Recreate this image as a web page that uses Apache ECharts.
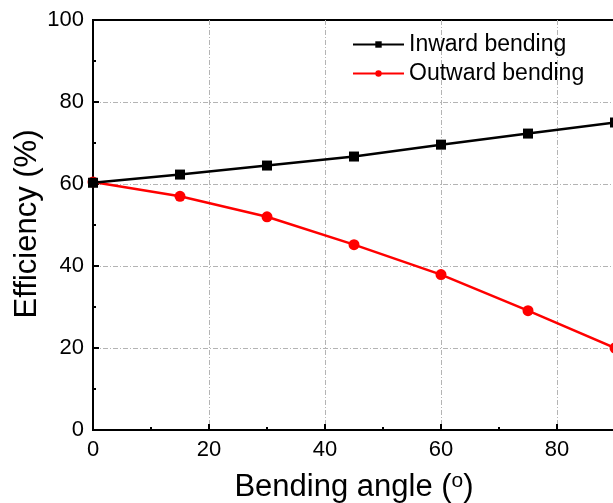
<!DOCTYPE html>
<html><head><meta charset="utf-8">
<script src="https://cdn.jsdelivr.net/npm/echarts@6/dist/echarts.min.js"></script>
<style>html,body{margin:0;padding:0;background:#fff}#c{width:613px;height:503px}</style>
</head><body><div id="c"></div>
<script>
const angles = [0, 15, 30, 45, 60, 75, 90];
const inward = [60.3, 62.3, 64.5, 66.7, 69.6, 72.3, 75.0];
const outward = [60.5, 57.0, 52.0, 45.2, 37.9, 29.1, 20.0];
const seriesNames = ['Inward bending', 'Outward bending'];
const xTitle = 'Bending angle';
const yTitle = 'Efficiency (%)';

const chart = echarts.init(document.getElementById('c'));
const font = 'Liberation Sans, Arial, sans-serif';
const grid = {type: [5, 2, 1, 2], color: '#b4b4b4', width: 1};
chart.setOption({
  animation: false,
  grid: {left: 93, top: 20, width: 522, height: 410, show: true, borderColor: '#000', borderWidth: 2, containLabel: false, outerBoundsMode: 'none'},
  legend: {
    orient: 'vertical', left: 347, top: 28, itemWidth: 51, itemHeight: 8, itemGap: 6,
    textStyle: {fontFamily: font, fontSize: 23, color: '#000', padding: [0, 0, 0, 0]},
    data: seriesNames
  },
  graphic: [{
    type: 'text', x: 27, y: 224, rotation: Math.PI / 2,
    style: {text: yTitle, fontFamily: font, fontSize: 31, fill: '#000', align: 'center', verticalAlign: 'middle'}
  }],
  xAxis: {
    type: 'value', min: 0, max: 90, interval: 20,
    name: '{a|' + xTitle + ' (}{s|o}{a|)}', nameLocation: 'middle', nameGap: 41,
    nameTextStyle: {rich: {a: {fontFamily: font, fontSize: 31, color: '#000'}, s: {fontFamily: font, fontSize: 21, color: '#000', verticalAlign: 'top', padding: [0, 0, 11, 0]}}},
    axisLine: {lineStyle: {color: '#000', width: 2}},
    axisTick: {inside: true, length: 6, lineStyle: {color: '#000', width: 2}},
    minorTick: {show: true, splitNumber: 2, length: 3, lineStyle: {color: '#000', width: 2}},
    axisLabel: {fontFamily: font, fontSize: 22, color: '#000', margin: 9, showMaxLabel: false},
    splitLine: {show: true, showMinLine: false, showMaxLine: false, lineStyle: grid}
  },
  yAxis: {
    type: 'value', min: 0, max: 100, interval: 20,
    axisLine: {lineStyle: {color: '#000', width: 2}},
    axisTick: {inside: true, length: 6, lineStyle: {color: '#000', width: 2}},
    minorTick: {show: true, splitNumber: 2, length: 3, lineStyle: {color: '#000', width: 2}},
    axisLabel: {fontFamily: font, fontSize: 22, color: '#000', margin: 9},
    splitLine: {show: true, showMinLine: false, showMaxLine: false, lineStyle: grid}
  },
  series: [
    {name: seriesNames[0], type: 'line', data: angles.map((a, i) => [a, inward[i]]),
     symbol: 'rect', symbolSize: 10, color: '#000', lineStyle: {width: 2.5, color: '#000'}, itemStyle: {color: '#000'}, clip: false, z: 3},
    {name: seriesNames[1], type: 'line', data: angles.map((a, i) => [a, outward[i]]),
     symbol: 'circle', symbolSize: 11, color: '#ff0000', lineStyle: {width: 2.5, color: '#ff0000'}, itemStyle: {color: '#ff0000'}, clip: false, z: 2}
  ]
});
</script></body></html>
